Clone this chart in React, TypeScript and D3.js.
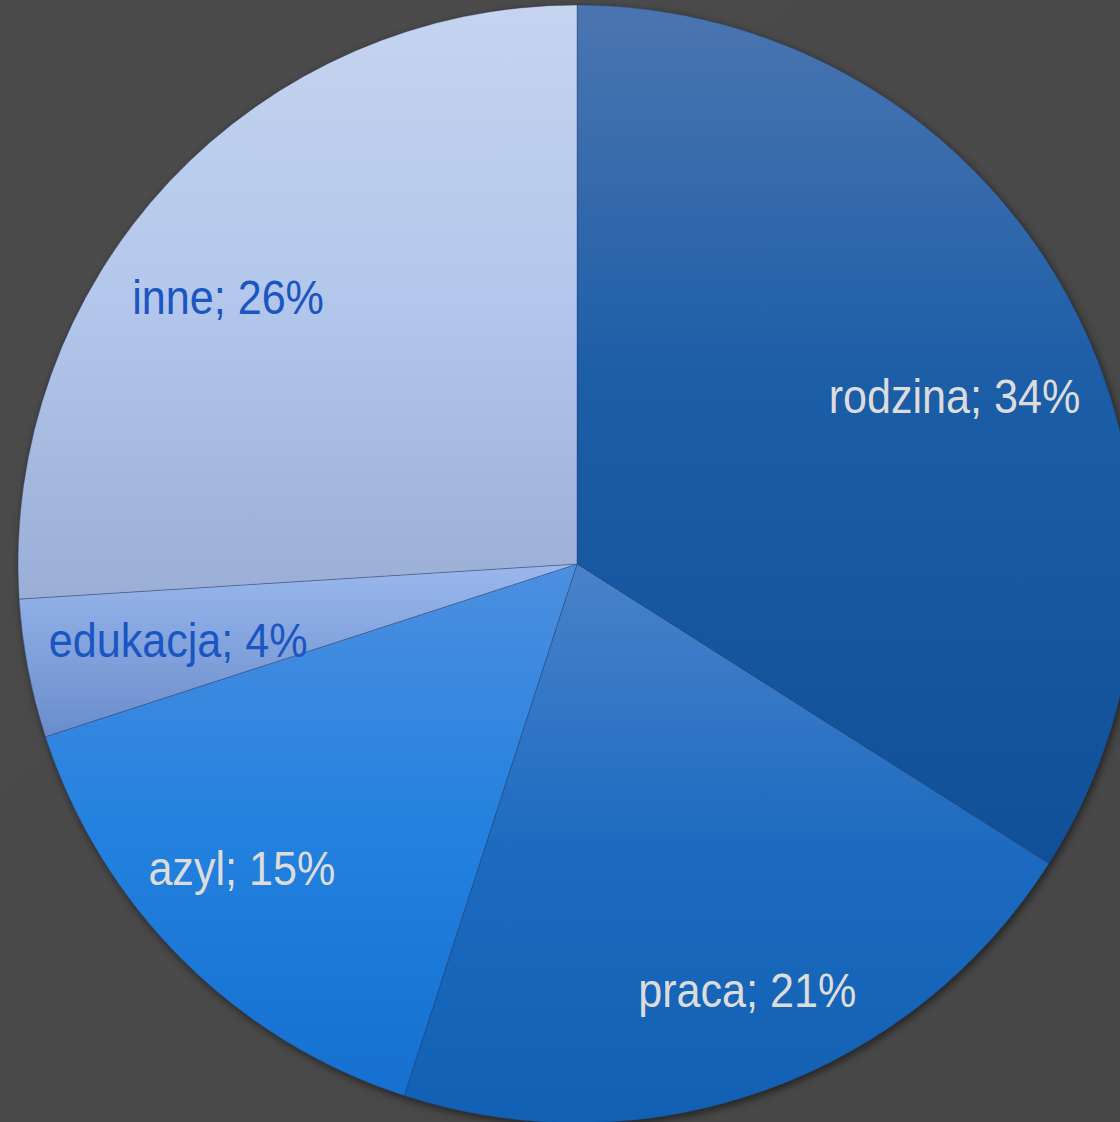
import React from "react";
import * as d3 from "d3";

const categories = ["rodzina", "praca", "azyl", "edukacja", "inne"];
const values = [34, 21, 15, 4, 26];

const WIDTH = 1120;
const HEIGHT = 1122;
const CX = 577;
const CY = 564;
const R = 559;

// style config (not data)
const gradients = [
  [["0", "#4b75b0"], ["0.45", "#1b5da7"], ["1", "#0f5098"]],
  [["0", "#4a82ca"], ["0.5", "#1d6bc0"], ["1", "#1160b3"]],
  [["0", "#4d8fe0"], ["0.5", "#2381df"], ["1", "#1570d0"]],
  [["0", "#9ab8ee"], ["1", "#6a8ccb"]],
  [["0", "#c5d4ef"], ["0.5", "#b3c7ec"], ["1", "#9aaed6"]],
];
const labelColors = ["#dcdcdc", "#dcdcdc", "#dcdcdc", "#1a55c2", "#1a55c2"];
const labelRadius = [0.74, 0.82, 0.81, 0.73, 0.79];
const labelNudge = [[15, 31], [15, -5], [-15, -16], [2, 0], [-27, 35]];

export default function App() {
  const pie = d3
    .pie<number>()
    .sort(null)
    .value((d) => d)(values);
  const arc = d3.arc<d3.PieArcDatum<number>>().innerRadius(0).outerRadius(R);

  return (
    <svg
      width={WIDTH}
      height={HEIGHT}
      style={{ position: "absolute", left: 0, top: 0, display: "block" }}
    >
      <defs>
        <linearGradient id="bg" x1="0" y1="0" x2="1" y2="1">
          <stop offset="0" stopColor="#4b4b4b" />
          <stop offset="1" stopColor="#474747" />
        </linearGradient>
        {gradients.map((g, i) => (
          <linearGradient key={i} id={`g${i}`} x1="0" y1="0" x2="0" y2="1">
            {g.map(([o, c], j) => (
              <stop key={j} offset={o} stopColor={c} />
            ))}
          </linearGradient>
        ))}
        <filter id="shadow" x="-10%" y="-10%" width="120%" height="120%">
          <feDropShadow dx="2" dy="3" stdDeviation="4" floodColor="#000" floodOpacity="0.55" />
        </filter>
      </defs>
      <rect width={WIDTH} height={HEIGHT} fill="url(#bg)" />
      <g transform={`translate(${CX},${CY})`}>
        <circle r={R} fill="#333" filter="url(#shadow)" />
        {pie.map((d, i) => (
          <path
            key={categories[i]}
            d={arc(d) || ""}
            fill={`url(#g${i})`}
            stroke="rgba(40,60,100,0.45)"
            strokeWidth={0.8}
          />
        ))}
        {pie.map((d, i) => {
          const mid = (d.startAngle + d.endAngle) / 2;
          const rr = R * labelRadius[i];
          const x = Math.sin(mid) * rr + labelNudge[i][0];
          const y = -Math.cos(mid) * rr + labelNudge[i][1];
          return (
            <text
              key={categories[i]}
              transform={`translate(${x},${y + 17}) scale(0.88,1)`}
              textAnchor="middle"
              fontFamily="'Liberation Sans', Arial, sans-serif"
              fontSize={49}
              fill={labelColors[i]}
            >
              {`${categories[i]}; ${values[i]}%`}
            </text>
          );
        })}
      </g>
    </svg>
  );
}
